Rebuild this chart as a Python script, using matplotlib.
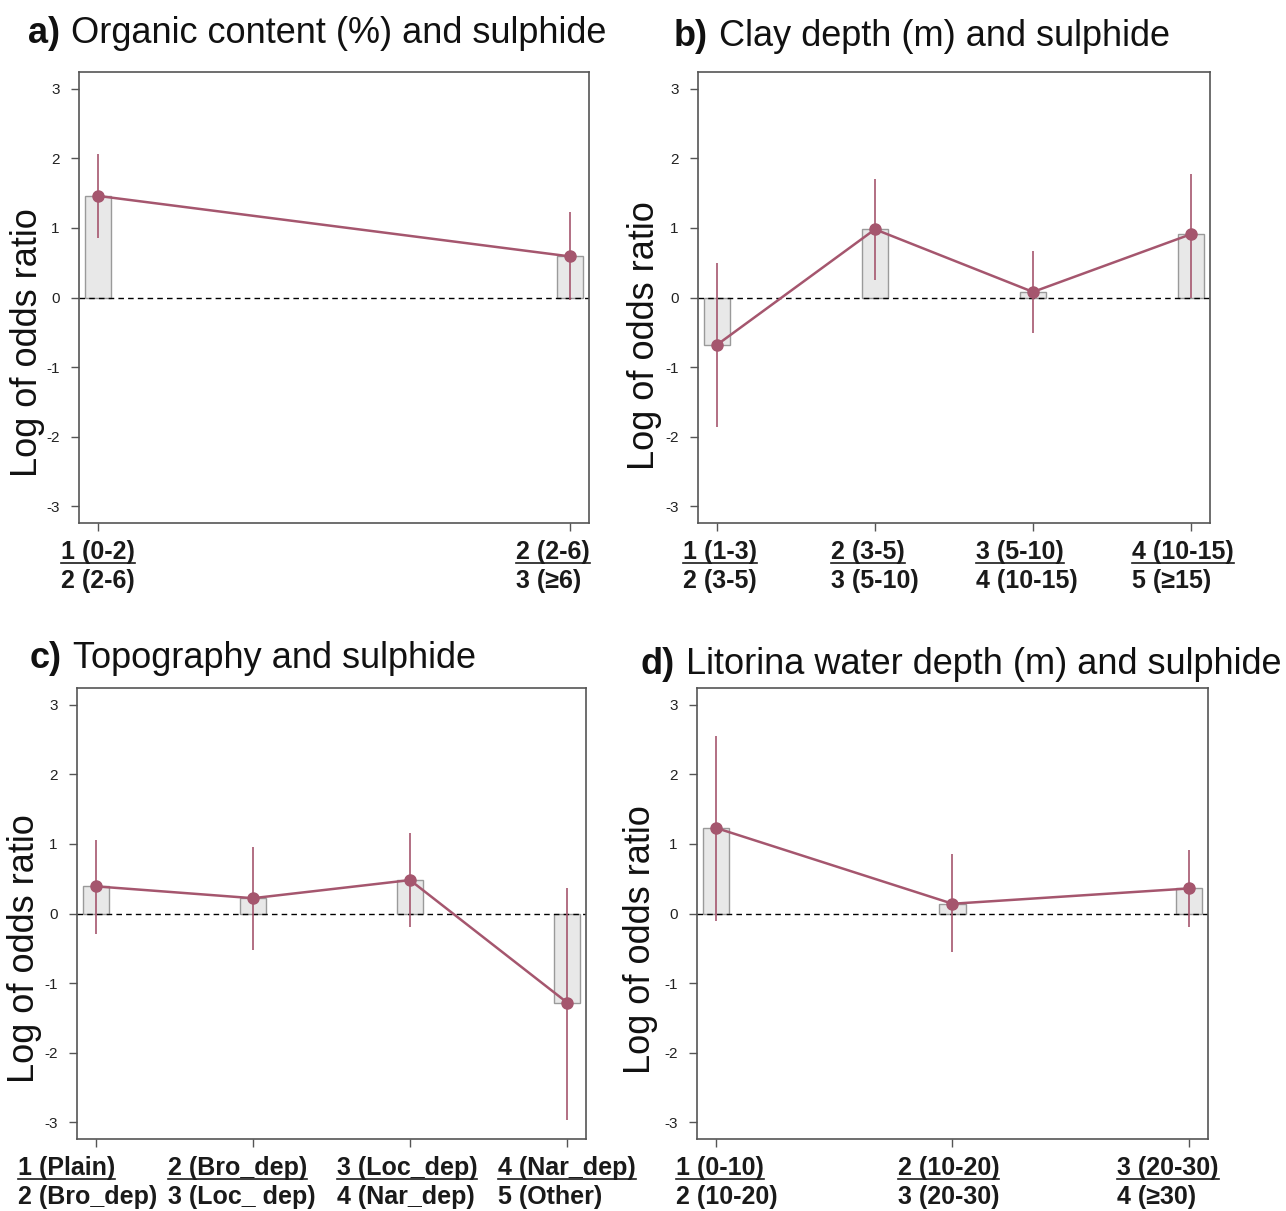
import numpy as np
import matplotlib
matplotlib.use('Agg')
import matplotlib.pyplot as plt
from matplotlib.lines import Line2D

plt.rcParams['font.family'] = ['Liberation Sans', 'DejaVu Sans']

W, H = 1286, 1211

# a) organic content
organic_top = ['1 (0-2)', '2 (2-6)']
organic_bottom = ['2 (2-6)', '3 (≥6)']
organic_est = [1.46, 0.59]
organic_lo = [0.85, -0.04]
organic_hi = [2.06, 1.23]

# b) clay depth
clay_top = ['1 (1-3)', '2 (3-5)', '3 (5-10)', '4 (10-15)']
clay_bottom = ['2 (3-5)', '3 (5-10)', '4 (10-15)', '5 (≥15)']
clay_est = [-0.68, 0.98, 0.08, 0.91]
clay_lo = [-1.86, 0.25, -0.51, 0.00]
clay_hi = [0.49, 1.70, 0.67, 1.78]

# c) topography
topo_top = ['1 (Plain)', '2 (Bro_dep)', '3 (Loc_dep)', '4 (Nar_dep)']
topo_bottom = ['2 (Bro_dep)', '3 (Loc_ dep)', '4 (Nar_dep)', '5 (Other)']
topo_est = [0.39, 0.22, 0.48, -1.28]
topo_lo = [-0.30, -0.52, -0.20, -2.97]
topo_hi = [1.05, 0.96, 1.16, 0.37]

# d) Litorina water depth
lit_top = ['1 (0-10)', '2 (10-20)', '3 (20-30)']
lit_bottom = ['2 (10-20)', '3 (20-30)', '4 (≥30)']
lit_est = [1.23, 0.14, 0.36]
lit_lo = [-0.11, -0.55, -0.19]
lit_hi = [2.55, 0.85, 0.91]

yticks = [-3, -2, -1, 0, 1, 2, 3]

LINE_COL = '#a5566e'
BAR_FACE = '#e8e8e8'
BAR_EDGE = '#9a9a9a'
SPINE_COL = '#555555'


def frac(x, y):
    return x / W, 1 - y / H


def make_axes(fig, left, top, right, bottom):
    x0, y0 = frac(left, bottom)
    return fig.add_axes([x0, y0, (right - left) / W, (bottom - top) / H])


def draw_panel(ax, est, lo, hi):
    n = len(est)
    x = np.arange(n)
    span = max(n - 1, 1)
    ax.set_xlim(-0.04 * span, (n - 1) + 0.04 * span)
    ax.set_ylim(-3.24, 3.24)
    bar_w = 0.051 * span * 1.08
    ax.bar(x, est, width=bar_w, color=BAR_FACE, edgecolor=BAR_EDGE,
           linewidth=1.0, zorder=1)
    ax.axhline(0, color='black', linewidth=1.0, linestyle=(0, (4, 3)), zorder=2)
    ax.vlines(x, lo, hi, color=LINE_COL, linewidth=1.2, zorder=3)
    ax.plot(x, est, color=LINE_COL, linewidth=1.8, marker='o',
            markersize=8, zorder=4)

    ax.set_xticks(x)
    ax.set_xticklabels([])
    ax.set_yticks(yticks)
    ax.set_yticklabels([str(v) for v in yticks])
    ax.tick_params(axis='both', length=6, width=1.0, color=SPINE_COL,
                   labelsize=11, labelcolor='#222222', pad=8)
    for s in ax.spines.values():
        s.set_color(SPINE_COL)
        s.set_linewidth(1.2)


def category_labels(ax, tops, bottoms, nudges):
    # two-line category label, left aligned, top line underlined later
    trans = ax.get_xaxis_transform()
    pairs = []
    for i, (t, b) in enumerate(zip(tops, bottoms)):
        kw = dict(xycoords=trans, textcoords='offset pixels', ha='left',
                  va='center', fontsize=18, fontweight='bold', color='#1a1a1a',
                  annotation_clip=False)
        top = ax.annotate(t, (i, 0), xytext=(0, -29), **kw)
        bot = ax.annotate(b, (i, 0), xytext=(0, -58), **kw)
        pairs.append((top, bot, nudges[i]))
    return pairs


def place_labels(fig, pairs):
    renderer = fig.canvas.get_renderer()
    for top, bot, dx in pairs:
        wt = top.get_window_extent(renderer).width
        wb = bot.get_window_extent(renderer).width
        shift = -max(wt, wb) / 2 + dx
        top.set_position((shift, -29))
        bot.set_position((shift, -58))
    fig.canvas.draw()
    for top, bot, dx in pairs:
        bb = top.get_window_extent(renderer)
        y = bb.y0 + 1
        fig.add_artist(Line2D([bb.x0 / W, bb.x1 / W], [y / H, y / H],
                              transform=fig.transFigure, color='#1a1a1a',
                              linewidth=1.2))


def panel_title(fig, x, y, letter, text):
    renderer = fig.canvas.get_renderer()
    fx, fy = frac(x, y)
    t = fig.text(fx, fy, letter, fontsize=26, fontweight='bold',
                 color='#111111', va='baseline', ha='left')
    w = t.get_window_extent(renderer).width
    fig.text((x + w + 11) / W, fy, text, fontsize=26, color='#111111',
             va='baseline', ha='left')


def y_title(fig, x, y):
    fx, fy = frac(x, y)
    fig.text(fx, fy, 'Log of odds ratio', fontsize=26, rotation=90,
             ha='center', va='center', color='#111111')


fig = plt.figure(figsize=(W / 100, H / 100), dpi=100)
fig.patch.set_facecolor('white')

ax_a = make_axes(fig, 79, 72, 589, 523)
ax_b = make_axes(fig, 698, 72, 1210, 523)
ax_c = make_axes(fig, 77, 688, 586, 1139)
ax_d = make_axes(fig, 697, 688, 1208, 1139)

draw_panel(ax_a, organic_est, organic_lo, organic_hi)
draw_panel(ax_b, clay_est, clay_lo, clay_hi)
draw_panel(ax_c, topo_est, topo_lo, topo_hi)
draw_panel(ax_d, lit_est, lit_lo, lit_hi)

pairs = []
pairs += category_labels(ax_a, organic_top, organic_bottom, [0, -17])
pairs += category_labels(ax_b, clay_top, clay_bottom, [3, 0, -6, -8])
pairs += category_labels(ax_c, topo_top, topo_bottom, [-8, -11, -3, 0])
pairs += category_labels(ax_d, lit_top, lit_bottom, [11, -4, -21])

fig.canvas.draw()
place_labels(fig, pairs)

panel_title(fig, 28, 43, 'a)', 'Organic content (%) and sulphide')
panel_title(fig, 674, 46, 'b)', 'Clay depth (m) and sulphide')
panel_title(fig, 30, 668, 'c)', 'Topography and sulphide')
panel_title(fig, 641, 674, 'd)', 'Litorina water depth (m) and sulphide')

y_title(fig, 28, 343)
y_title(fig, 644, 336)
y_title(fig, 25, 949)
y_title(fig, 641, 940)

fig.savefig('out.png', dpi=100, facecolor='white')
